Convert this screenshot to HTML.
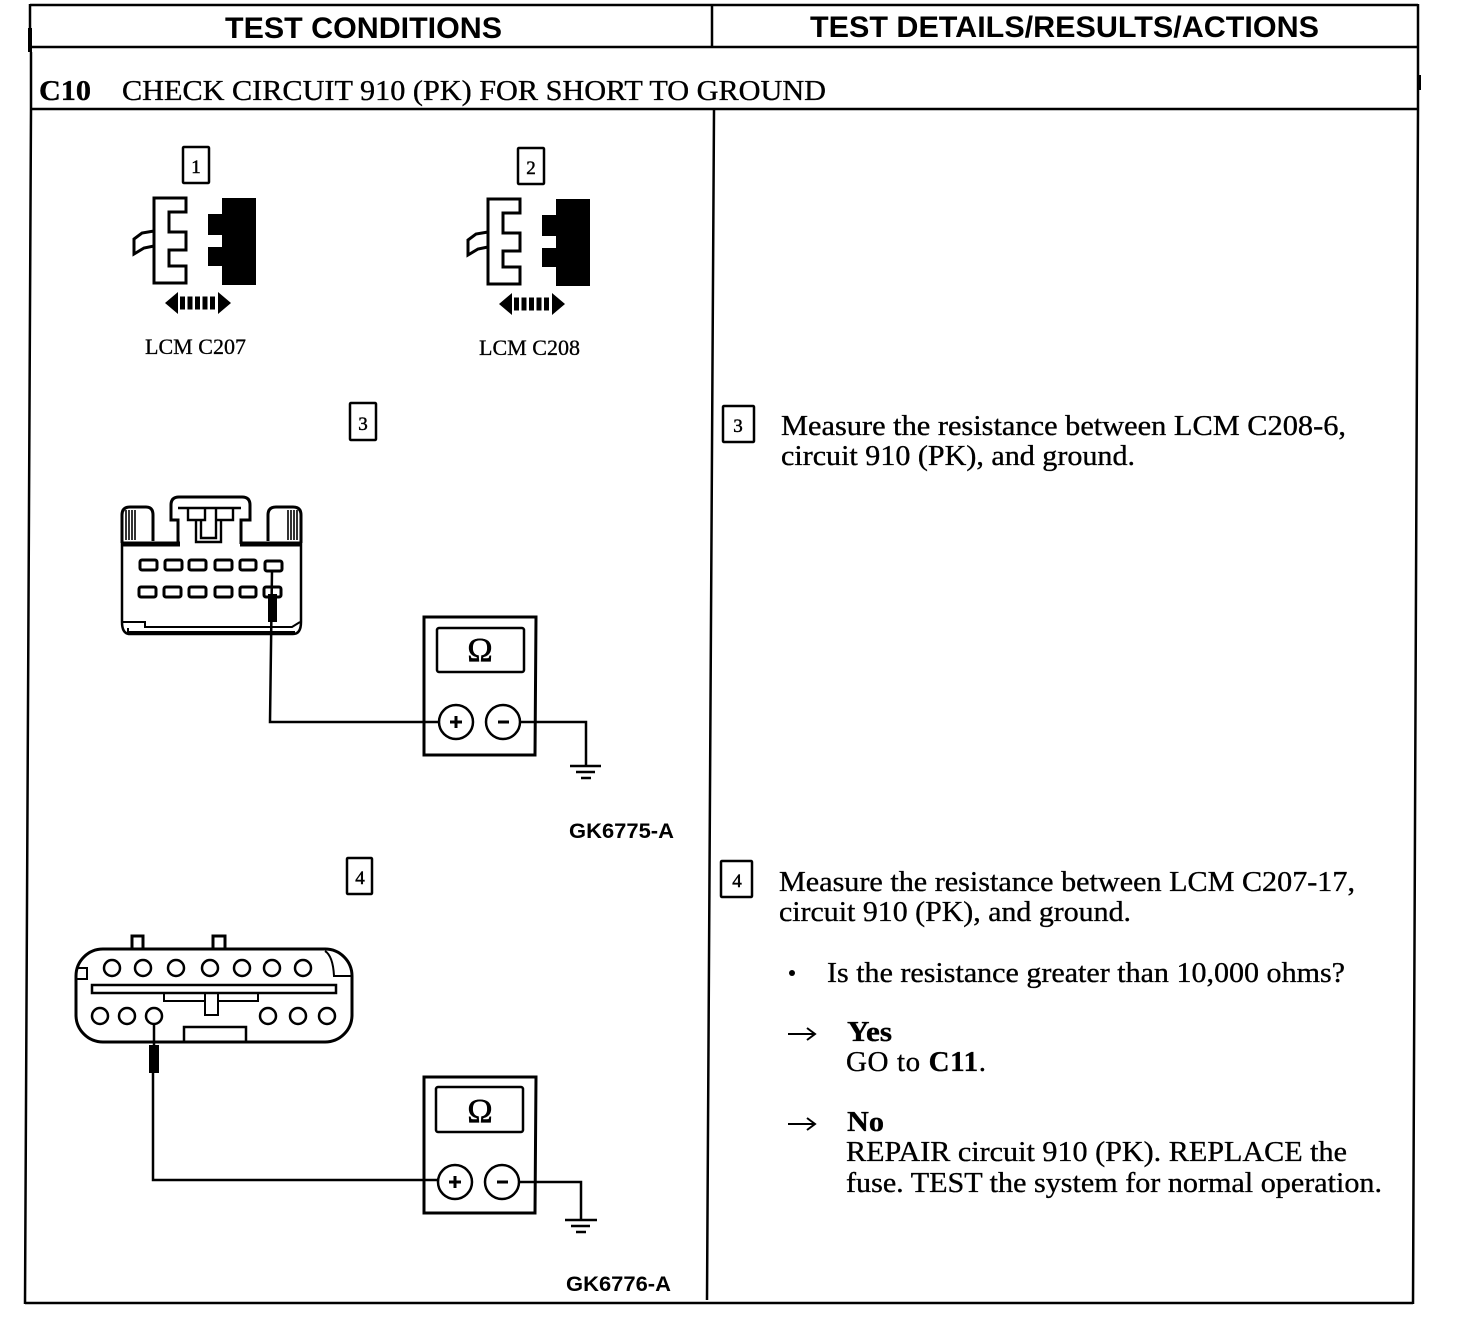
<!DOCTYPE html>
<html lang="en">
<head>
<meta charset="utf-8">
<title>C10 Check Circuit 910</title>
<style>
html,body{margin:0;padding:0;background:#fff}
svg{display:block}
.h{font:bold 30px "Liberation Sans",sans-serif}
.s{font:29px "Liberation Serif",serif;stroke:#000;stroke-width:.35px}
.b{font-weight:bold}
.n{font:19px "Liberation Serif",serif;stroke:#000;stroke-width:.5px}
.l{font:22px "Liberation Serif",serif;stroke:#000;stroke-width:.3px}
.g{font:bold 21px "Liberation Sans",sans-serif}
.o{font:34px "Liberation Serif",serif;stroke:#000;stroke-width:.6px}
</style>
</head>
<body>
<svg width="1472" height="1334" viewBox="0 0 1472 1334" xmlns="http://www.w3.org/2000/svg" fill="none" stroke="#000" stroke-width="2.5">
<!-- frame -->
<path d="M30 5H1418M30 47H1418M31 109H1419M25 1303H1413"/>
<path d="M30 4V52M31 52V109L25 1304M1418 4V109L1413 1304M712 4V47M714 110L707 1300"/>
<path d="M30 28V52M1419 75V90" stroke-width="4"/>
<g fill="#000" stroke="none">
<text class="h" x="225" y="38" textLength="277" lengthAdjust="spacingAndGlyphs">TEST CONDITIONS</text>
<text class="h" x="810" y="37" textLength="509" lengthAdjust="spacingAndGlyphs">TEST DETAILS/RESULTS/ACTIONS</text>
<text class="s b" x="39" y="100" textLength="52" lengthAdjust="spacingAndGlyphs">C10</text>
<text class="s" x="122" y="100" textLength="704" lengthAdjust="spacingAndGlyphs">CHECK CIRCUIT 910 (PK) FOR SHORT TO GROUND</text>
<text class="s" x="781" y="435" textLength="565" lengthAdjust="spacingAndGlyphs">Measure the resistance between LCM C208-6,</text>
<text class="s" x="781" y="465" textLength="354" lengthAdjust="spacingAndGlyphs">circuit 910 (PK), and ground.</text>
<text class="s" x="779" y="891" textLength="576" lengthAdjust="spacingAndGlyphs">Measure the resistance between LCM C207-17,</text>
<text class="s" x="779" y="921" textLength="352" lengthAdjust="spacingAndGlyphs">circuit 910 (PK), and ground.</text>
<circle cx="792" cy="973" r="3"/>
<text class="s" x="827" y="982" textLength="518" lengthAdjust="spacingAndGlyphs">Is the resistance greater than 10,000 ohms?</text>
<text class="s b" x="847" y="1041" textLength="45" lengthAdjust="spacingAndGlyphs">Yes</text>
<text class="s" x="846" y="1071" textLength="140">GO to <tspan class="b">C11</tspan>.</text>
<text class="s b" x="847" y="1131" textLength="37" lengthAdjust="spacingAndGlyphs">No</text>
<text class="s" x="846" y="1161" textLength="501" lengthAdjust="spacingAndGlyphs">REPAIR circuit 910 (PK). REPLACE the</text>
<text class="s" x="846" y="1192" textLength="536" lengthAdjust="spacingAndGlyphs">fuse. TEST the system for normal operation.</text>
<text class="l" x="145" y="354" textLength="101" lengthAdjust="spacingAndGlyphs">LCM C207</text>
<text class="l" x="479" y="355" textLength="101" lengthAdjust="spacingAndGlyphs">LCM C208</text>
<text class="g" x="569" y="838" textLength="105" lengthAdjust="spacingAndGlyphs">GK6775-A</text>
<text class="g" x="566" y="1291" textLength="105" lengthAdjust="spacingAndGlyphs">GK6776-A</text>
<text class="n" x="196" y="173" text-anchor="middle">1</text>
<text class="n" x="531" y="174" text-anchor="middle">2</text>
<text class="n" x="363" y="430" text-anchor="middle">3</text>
<text class="n" x="738" y="432" text-anchor="middle">3</text>
<text class="n" x="360" y="884" text-anchor="middle">4</text>
<text class="n" x="737" y="887" text-anchor="middle">4</text>
<text class="o" x="480" y="661" text-anchor="middle">Ω</text>
<text class="o" x="480" y="1122" text-anchor="middle">Ω</text>
</g>
<!-- right arrows -->
<path d="M788 1034H814M807 1028L815 1034L807 1040M788 1124H814M807 1118L815 1124L807 1130" stroke-width="2"/>
<!-- number boxes -->
<rect x="183" y="147" width="26" height="36" rx="1"/>
<rect x="518" y="148" width="26" height="36" rx="1"/>
<rect x="350" y="403" width="26" height="37" rx="1"/>
<rect x="723" y="406" width="31" height="36" rx="1"/>
<rect x="347" y="858" width="25" height="36" rx="1"/>
<rect x="721" y="861" width="31" height="36" rx="1"/>
<!-- connector pair -->
<g>
<path d="M154 198H186V212H169V232H186V250H169V266H186V283H154ZM154 231L142 233L134 239V254L144 248L154 246" stroke-width="3"/>
<path fill="#000" stroke="none" d="M222 198H256V285H222V266H208V247H222V235H208V214H222Z"/>
<path fill="#000" stroke="none" d="M165 303L178 292V314ZM231 303L218 292V314Z"/>
<path d="M180 303H216" stroke-width="13" stroke-dasharray="5 2.5"/>
</g>
<g transform="translate(334 1)">
<path d="M154 198H186V212H169V232H186V250H169V266H186V283H154ZM154 231L142 233L134 239V254L144 248L154 246" stroke-width="3"/>
<path fill="#000" stroke="none" d="M222 198H256V285H222V266H208V247H222V235H208V214H222Z"/>
<path fill="#000" stroke="none" d="M165 303L178 292V314ZM231 303L218 292V314Z"/>
<path d="M180 303H216" stroke-width="13" stroke-dasharray="5 2.5"/>
</g>
<!-- connector 3 -->
<path d="M122 543V622Q122 634 130 634H293Q301 634 301 622V543"/>
<path d="M122 622H145V627H292L300 622M128 628V632H295" stroke-width="2"/>
<path d="M122 543V515Q122 507 130 507H146Q153 507 153 515V541M268 541V515Q268 507 276 507H293Q301 507 301 515V543" stroke-width="3"/>
<path d="M126 510V540M129 510V540M132 510V540M135 510V540M288 510V540M291 510V540M294 510V540M297 510V540" stroke-width="1.6"/>
<path d="M122 544H180M240 544H301" stroke-width="5"/>
<path d="M178 544V520H171V505Q171 497 179 497H242Q250 497 250 505V520H241V544" stroke-width="3"/>
<path d="M178 508H241M188 508V520H205V508M216 508V520H233V508M196 520V542H221V520M201 520V538H216V520" stroke-width="2.4"/>
<g stroke-width="3">
<rect x="140" y="560" width="17" height="10" rx="2"/><rect x="165" y="560" width="17" height="10" rx="2"/><rect x="189" y="560" width="17" height="10" rx="2"/><rect x="215" y="560" width="17" height="10" rx="2"/><rect x="240" y="560" width="16" height="10" rx="2"/><rect x="265" y="561" width="17" height="10" rx="2"/>
<rect x="139" y="587" width="17" height="10" rx="2"/><rect x="164" y="587" width="17" height="10" rx="2"/><rect x="189" y="587" width="17" height="10" rx="2"/><rect x="215" y="587" width="17" height="10" rx="2"/><rect x="240" y="587" width="16" height="10" rx="2"/><rect x="264" y="587" width="17" height="10" rx="2"/>
</g>
<path d="M272 571L270 722H439"/>
<path fill="#000" stroke="none" d="M268 594H277V622H268Z"/>
<!-- meter 1 -->
<path d="M424 617H536L535 755H424Z" stroke-width="3"/>
<rect x="437" y="628" width="87" height="44" rx="2"/>
<circle cx="456" cy="722" r="17"/><circle cx="503" cy="722" r="17"/>
<path d="M450 722H462M456 716V728M498 722H509" stroke-width="3"/>
<path d="M520 722H586V766M570 766H601M576 772H595M581 778H591"/>
<!-- connector 4 -->
<rect x="76" y="949" width="276" height="93" rx="27" stroke-width="3"/>
<path d="M132 949V936H143V949M213 949V936H225V949" stroke-width="3"/>
<path d="M325 951Q333 956 334 976H351M77 968H87V979H77" stroke-width="2"/>
<g>
<circle cx="112" cy="968" r="8"/><circle cx="143" cy="968" r="8"/><circle cx="176" cy="968" r="8"/><circle cx="210" cy="968" r="8"/><circle cx="242" cy="968" r="8"/><circle cx="272" cy="968" r="8"/><circle cx="303" cy="968" r="8"/>
<circle cx="100" cy="1016" r="8"/><circle cx="127" cy="1016" r="8"/><circle cx="154" cy="1016" r="8"/><circle cx="268" cy="1016" r="8"/><circle cx="298" cy="1016" r="8"/><circle cx="327" cy="1016" r="8"/>
</g>
<rect x="92" y="985" width="244" height="8"/>
<path d="M164 994V1001H205M218 1001H258V994M205 994V1015H218V994" stroke-width="2"/>
<path d="M184 1042V1027H246V1042"/>
<path d="M154 1024V1045M153 1073V1180H438"/>
<path fill="#000" stroke="none" d="M149 1045H159V1073H149Z"/>
<!-- meter 2 -->
<path d="M424 1077H536L535 1213H424Z" stroke-width="3"/>
<rect x="436" y="1087" width="87" height="45" rx="2"/>
<circle cx="455" cy="1182" r="17"/><circle cx="502" cy="1182" r="17"/>
<path d="M449 1182H461M455 1176V1188M497 1182H508" stroke-width="3"/>
<path d="M519 1182H581V1220M565 1220H597M571 1226H590M576 1232H586"/>
</svg>
</body>
</html>
